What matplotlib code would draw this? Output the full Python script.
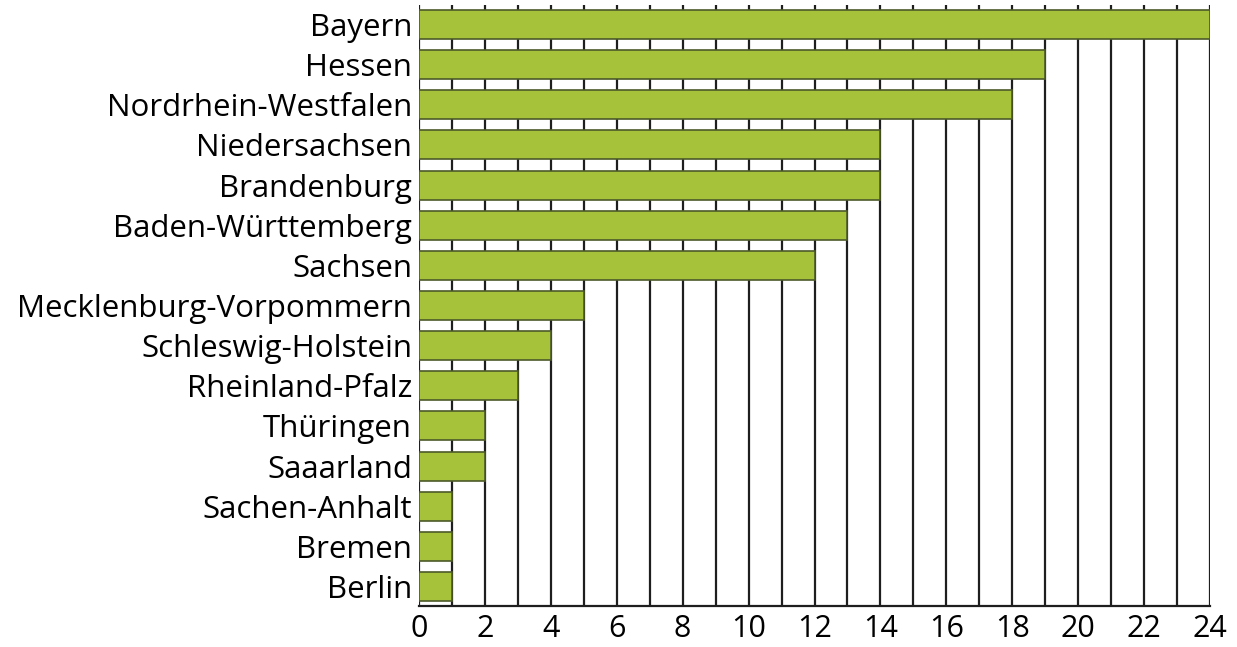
import numpy as np
import matplotlib
matplotlib.use('Agg')
import matplotlib.pyplot as plt

states = ['Bayern', 'Hessen', 'Nordrhein-Westfalen', 'Niedersachsen', 'Brandenburg',
          'Baden-Württemberg', 'Sachsen', 'Mecklenburg-Vorpommern', 'Schleswig-Holstein',
          'Rheinland-Pfalz', 'Thüringen', 'Saaarland', 'Sachen-Anhalt', 'Bremen', 'Berlin']
values = [24, 19, 18, 14, 14, 13, 12, 5, 4, 3, 2, 2, 1, 1, 1]
xticks = list(range(0, 25, 2))

plt.rcParams['font.family'] = ['Open Sans', 'DejaVu Sans']

fig = plt.figure(figsize=(12.37, 6.47), dpi=100)
ax = fig.add_axes([419 / 1237, 1 - 606 / 647, (1210 - 419) / 1237, 601 / 647])

y = np.arange(len(states))[::-1]  # Bayern on top

# vertical grid at every unit
for gx in range(0, 25):
    ax.axvline(gx, color='#1e1e1e', lw=1.6, zorder=1)

ax.barh(y, values, height=0.72, color='#a6c13a', edgecolor='#4d5a2a',
        linewidth=1.2, zorder=2)

ax.set_xlim(0, 24)
ax.set_ylim(-0.485, 14.485)
ax.set_yticks(y)
ax.set_yticklabels(states, fontsize=22.5)
ax.set_xticks(xticks)
ax.set_xticklabels([str(t) for t in xticks], fontsize=22)
ax.tick_params(length=0, pad=5)
ax.tick_params(axis='x', pad=6)

for side in ['top', 'right', 'left']:
    ax.spines[side].set_visible(False)
ax.spines['bottom'].set_color('#1e1e1e')
ax.spines['bottom'].set_linewidth(1.6)

fig.savefig('out.png', dpi=100)
